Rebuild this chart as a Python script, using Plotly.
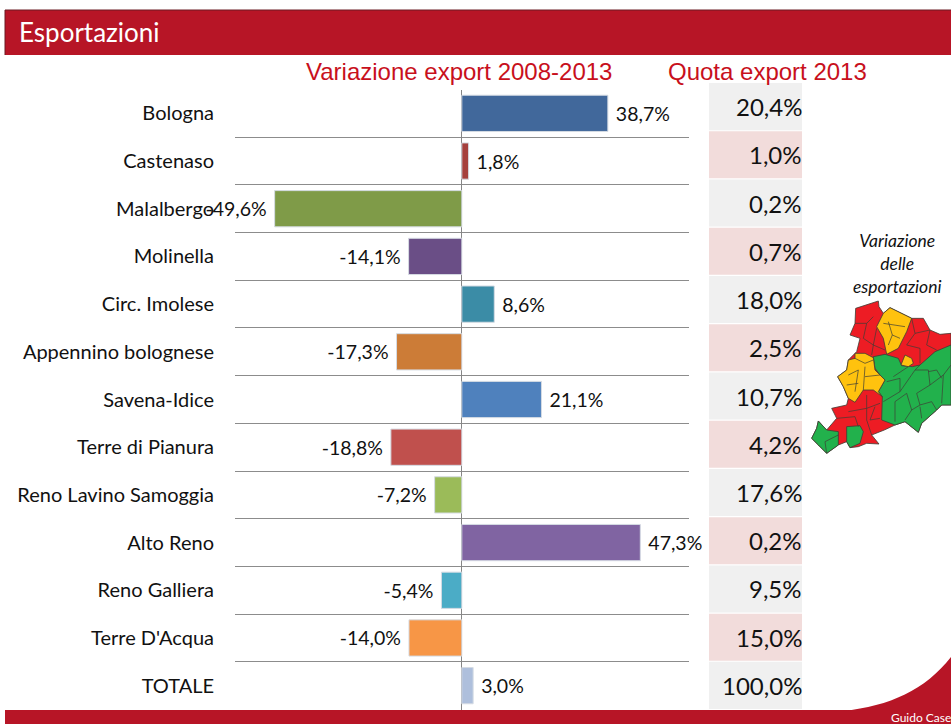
import plotly.graph_objects as go

W, H = 951, 724

categories = ["Bologna", "Castenaso", "Malalbergo", "Molinella", "Circ. Imolese",
              "Appennino bolognese", "Savena-Idice", "Terre di Pianura",
              "Reno Lavino Samoggia", "Alto Reno", "Reno Galliera",
              "Terre D'Acqua", "TOTALE"]
variazione = [38.7, 1.8, -49.6, -14.1, 8.6, -17.3, 21.1, -18.8, -7.2, 47.3, -5.4, -14.0, 3.0]
quota = [20.4, 1.0, 0.2, 0.7, 18.0, 2.5, 10.7, 4.2, 17.6, 0.2, 9.5, 15.0, 100.0]
bar_colors = ["#41689b", "#a5403d", "#7f9b48", "#6a4e86", "#3b8ca6", "#cc7c37", "#4f81bd",
              "#c0504d", "#9bbb59", "#8064a2", "#4bacc6", "#f79646", "#aebfdc"]
cell_colors = ["#f0f0f0", "#f2dcdb"]
FONT = "Lato"


def fmt(v):
    return f"{v:.1f}".replace(".", ",") + "%"


def px(x):
    return x / W


def py(y):
    return 1 - y / H


def rect(x0, y0, x1, y1, color):
    return dict(type="rect", xref="paper", yref="paper", x0=px(x0), x1=px(x1), y0=py(y0), y1=py(y1),
                fillcolor=color, line_width=0, layer="below")


def path_from(points, closed=True):
    s = "M " + " L ".join(f"{px(805 + a / 3):.5f},{py(295 + b / 3):.5f}" for a, b in points)
    return s + (" Z" if closed else "")


RED, YEL, GRN = "#ed1c24", "#ffc20e", "#22b14c"
map_regions = [
    (RED, [(152,40),(220,18),(222,35),(235,55),(255,38),(320,70),(355,70),(375,105),(405,118),(438,115),(438,330),(410,330),(395,345),(350,385),(340,412),(300,380),(270,390),(238,405),(200,420),(222,447),(185,445),(160,455),(135,458),(125,440),(100,450),(65,475),(40,450),(20,430),(35,400),(40,378),(65,405),(95,370),(80,340),(125,330),(130,310),(115,275),(98,245),(125,225),(130,195),(150,175),(155,170),(165,130),(135,120),(150,85)]),
    (YEL, [(255,38),(320,70),(305,110),(280,160),(245,178),(235,130),(215,95),(235,55)]),
    (GRN, [(205,185),(240,178),(280,190),(290,212),(322,215),(345,210),(390,170),(438,150),(438,330),(410,330),(395,345),(350,385),(340,412),(300,380),(270,390),(230,375),(232,305),(220,290),(240,255),(225,240),(210,220)]),
    (YEL, [(300,180),(320,190),(325,205),(310,215),(288,210)]),
    (YEL, [(150,175),(180,175),(205,188),(210,225),(240,255),(220,290),(232,305),(205,285),(175,285),(150,322),(130,310),(115,275),(98,245),(125,225),(130,195),(150,190)]),
    (GRN, [(40,378),(65,405),(100,410),(100,450),(65,475),(40,450),(20,430),(35,400)]),
    (GRN, [(125,395),(165,392),(175,410),(165,445),(135,458),(125,440)]),
]
map_borders = [
    [(185,85),(175,130),(205,150),(200,180)], [(150,85),(185,85),(205,65)],
    [(215,100),(205,150),(240,165)], [(250,80),(262,120),(250,150)], [(235,85),(300,95)],
    [(262,120),(285,130)], [(320,70),(330,115),(305,150),(345,160),(345,205)], [(330,115),(375,105),(365,150),(395,165)],
    [(265,245),(310,215)], [(245,260),(285,250),(285,290),(235,320)], [(285,290),(330,225),(345,210)],
    [(330,225),(370,225),(375,270),(335,295)], [(375,270),(415,240),(438,210)], [(370,230),(395,225),(410,250)],
    [(305,295),(270,320),(270,380)], [(305,295),(320,345),(300,375)], [(335,295),(345,330),(320,345)],
    [(345,330),(380,320),(395,345)], [(345,335),(350,370)], [(415,240),(410,325)],
    [(130,240),(160,225),(150,290)], [(180,215),(175,285)], [(180,245),(225,240)], [(150,190),(180,205),(205,195)],
    [(125,270),(160,265)], [(185,300),(185,375),(200,420)], [(130,350),(185,340),(225,325)],
    [(95,370),(150,365),(160,395)], [(210,335),(195,375),(225,370)], [(60,440),(100,420)], [(60,440),(65,475)],
]

shapes = [
    rect(5, 10, W, 55, "#b71526"),
    rect(5, 710, W, H, "#b71526"),
    dict(type="line", xref="paper", yref="paper", x0=px(5), x1=px(W), y0=py(10), y1=py(10),
         line=dict(color="#6b1a22", width=1), layer="below"),
    dict(type="line", xref="paper", yref="paper", x0=px(5), x1=px(5), y0=py(10), y1=py(55),
         line=dict(color="#6b1a22", width=1), layer="below"),
    dict(type="path", xref="paper", yref="paper", layer="below", fillcolor="#b71526", line_width=0,
         path=(f"M {px(843)},{py(711)} C {px(890)},{py(706)} {px(925)},{py(690)} {px(W)},{py(657)} "
               f"L {px(W)},{py(711)} Z")),
]
for color, pts in map_regions:
    shapes.append(dict(type="path", xref="paper", yref="paper", path=path_from(pts), fillcolor=color,
                       line=dict(color="#3d3d35", width=0.8), layer="above"))
for pts in map_borders:
    shapes.append(dict(type="path", xref="paper", yref="paper", path=path_from(pts, closed=False),
                       line=dict(color="#3d3d35", width=0.7), layer="above"))

fig = go.Figure()
fig.add_trace(go.Bar(
    y=categories, x=variazione, orientation="h", width=0.76,
    marker=dict(color=bar_colors, line=dict(color="#d5dbe3", width=1)),
    text=[("\u00a0" + fmt(v)) if v >= 0 else (fmt(v) + "\u00a0") for v in variazione],
    textposition="outside", cliponaxis=False,
    textfont=dict(family=FONT, size=19.5, color="#111111"),
    hoverinfo="skip",
))
fig.add_trace(go.Bar(
    y=categories, x=[1] * len(categories), orientation="h", width=0.975,
    xaxis="x2", yaxis="y2",
    marker=dict(color=[cell_colors[i % 2] for i in range(len(categories))], line_width=0),
    hoverinfo="skip",
))

annotations = [
    dict(xref="x2", yref="y2", x=1, y=c, text=fmt(q), showarrow=False, xanchor="right", yanchor="middle",
         yshift=0, xshift=2, font=dict(family=FONT, size=24, color="#111111"))
    for c, q in zip(categories, quota)
]


def label(x, y, text, size, color, family=FONT, xanchor="center", italic=False):
    return dict(xref="paper", yref="paper", x=px(x), y=py(y), text=text, showarrow=False,
                xanchor=xanchor, yanchor="middle",
                font=dict(family=family, size=size, color=color, style="italic" if italic else "normal"))


annotations += [
    label(17, 32, "Esportazioni", 26, "#ffffff", xanchor="left"),
    label(459, 72, "Variazione export 2008-2013", 24, "#c8101c", "Liberation Sans"),
    label(767, 72, "Quota export 2013", 24, "#c8101c", "Liberation Sans"),
    label(897, 263, "Variazione<br>delle<br>esportazioni", 17.5, "#111111", italic=True),
    label(889, 717, "Guido Caselli", 12, "#ffffff", xanchor="left"),
]

fig.update_layout(
    width=W, height=H, autosize=False, margin=dict(l=0, r=0, t=0, b=0),
    paper_bgcolor="#ffffff", plot_bgcolor="rgba(0,0,0,0)",
    showlegend=False, barmode="overlay", shapes=shapes, annotations=annotations,
    font=dict(family=FONT),
    xaxis=dict(domain=[px(235), px(689)], range=[-60.1, 60.2], showgrid=False, showticklabels=False,
               ticks="", zeroline=True, zerolinecolor="#868686", zerolinewidth=1, anchor="y", fixedrange=True),
    yaxis=dict(domain=[py(709.5), py(89.5)], type="category", categoryorder="array", categoryarray=categories,
               autorange="reversed", tickson="boundaries", showgrid=True, gridcolor="#8c8c8c", gridwidth=1,
               showline=False, ticks="", ticklabelstandoff=20, anchor="x",
               tickfont=dict(family=FONT, size=20, color="#111111"), fixedrange=True),
    xaxis2=dict(domain=[px(709), px(802)], range=[0, 1], visible=False, anchor="y2", fixedrange=True),
    yaxis2=dict(domain=[py(709.5), py(82.5)], type="category", categoryorder="array", categoryarray=categories,
                autorange="reversed", visible=False, anchor="x2", fixedrange=True),
)

fig.write_html("out.html", config=dict(displayModeBar=False),
               post_script="document.body.style.margin='0';document.documentElement.style.overflow='hidden';")
